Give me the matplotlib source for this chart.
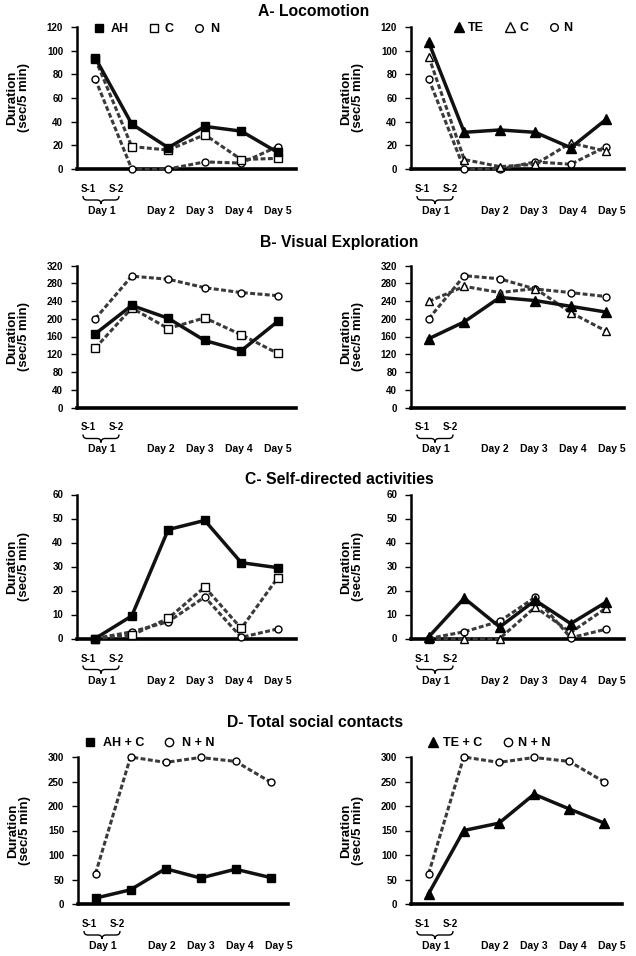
import numpy as np
import matplotlib
matplotlib.use('Agg')
import matplotlib.pyplot as plt
from matplotlib.lines import Line2D
from matplotlib.path import Path
from matplotlib.patches import PathPatch

plt.rcParams['font.family'] = ['Liberation Sans', 'DejaVu Sans']

W, H = 636, 956

# ---------------- data ----------------
sessions = ['S-1', 'S-2', 'Day 2', 'Day 3', 'Day 4', 'Day 5']
session_labels = ['S-1', 'S-2']
day_labels = ['Day 1', 'Day 2', 'Day 3', 'Day 4', 'Day 5']

titles = ['A- Locomotion', 'B- Visual Exploration',
          'C- Self-directed activities', 'D- Total social contacts']

# A - Locomotion
loc_AH = [94, 38, 18, 36, 32, 14]
loc_C_left = [93, 19, 16, 29, 8, 9]
loc_N_left = [76, 0, 0, 6, 5, 19]
loc_TE = [107, 31, 33, 31, 18, 42]
loc_C_right = [95, 8, 2, 4, 22, 15]
loc_N_right = [76, 0, 0, 6, 4, 19]

# B - Visual exploration
vis_AH = [166, 230, 201, 151, 128, 194]
vis_C_left = [134, 224, 178, 202, 164, 122]
vis_N_left = [200, 296, 289, 270, 259, 252]
vis_TE = [155, 193, 248, 241, 228, 215]
vis_C_right = [239, 273, 259, 268, 214, 172]
vis_N_right = [200, 297, 290, 267, 259, 250]

# C - Self-directed activities
self_AH = [0, 9.4, 45.4, 49.2, 31.6, 29.5]
self_C_left = [0, 1.4, 8.4, 21.4, 4.2, 25.3]
self_N_left = [0, 2.8, 7, 17.3, 0.5, 4]
self_TE = [0.7, 16.8, 4.8, 15.9, 6.2, 15.2]
self_C_right = [0, 0, 0, 13.1, 2.5, 12.7]
self_N_right = [0, 2.8, 7.2, 17.2, 0.3, 3.9]

# D - Total social contacts
soc_AHC = [12, 29, 72, 53, 71, 54]
soc_NN_left = [62, 300, 289, 299, 291, 249]
soc_TEC = [21, 150, 165, 224, 194, 165]
soc_NN_right = [62, 300, 289, 299, 291, 249]

yticks_A = [0, 20, 40, 60, 80, 100, 120]
yticks_B = [0, 40, 80, 120, 160, 200, 240, 280, 320]
yticks_C = [0, 10, 20, 30, 40, 50, 60]
yticks_D = [0, 50, 100, 150, 200, 250, 300]

# ---------------- figure ----------------
fig = plt.figure(figsize=(W / 100, H / 100), dpi=100)
fig.patch.set_facecolor('white')

x = np.arange(len(sessions))

SOLID = dict(color='#111111', lw=2.5, ls='-', zorder=5)
DASH = dict(color='#3a3a3a', lw=2.2, ls=(0, (1.6, 0.8)), zorder=4)


def fx(px):
    return px / W


def fy(py):
    return 1 - py / H


def make_ax(left, right, top, bottom, yticks):
    ax = fig.add_axes([fx(left), fy(bottom), (right - left) / W, (bottom - top) / H])
    ax.set_xlim(-0.5, len(sessions) - 0.5)
    ax.set_ylim(0, yticks[-1])
    ax.set_xticks([])
    ax.set_yticks(yticks)
    ax.set_yticklabels([str(t) for t in yticks], fontsize=7, fontweight='bold')
    ax.tick_params(axis='y', length=4, width=1, pad=6)
    for s in ['top', 'right']:
        ax.spines[s].set_visible(False)
    ax.spines['left'].set_linewidth(1.8)
    ax.spines['bottom'].set_linewidth(2.6)
    ax.set_ylabel('Duration\n(sec/5 min)', fontsize=9.5, fontweight='bold', linespacing=1.0)
    ax.yaxis.set_label_coords(-47 / (right - left), 0.5)
    ax.patch.set_alpha(0)
    # session / day labels and brace below axis
    s_off = [11.5, 39.5]
    d_off = [25, 84, 123, 162, 201]
    for lab, o in zip(session_labels, s_off):
        fig.text(fx(left + o), fy(bottom + 20), lab, ha='center', va='center',
                 fontsize=7, fontweight='bold')
    for lab, o in zip(day_labels, d_off):
        fig.text(fx(left + o), fy(bottom + 42), lab, ha='center', va='center',
                 fontsize=7.5, fontweight='bold')
    x0, x1, xm = left + 6, left + 42, left + 24
    y0, ym, yt = bottom + 27, bottom + 31, bottom + 35
    verts = [(x0, y0), (x0, ym), (x0 + 4, ym), (xm - 4, ym), (xm, ym), (xm, yt),
             (xm, ym), (xm + 4, ym), (x1 - 4, ym), (x1, ym), (x1, y0)]
    codes = [Path.MOVETO, Path.CURVE3, Path.CURVE3, Path.LINETO, Path.CURVE3, Path.CURVE3,
             Path.CURVE3, Path.CURVE3, Path.LINETO, Path.CURVE3, Path.CURVE3]
    verts = [(fx(a), fy(b)) for a, b in verts]
    fig.add_artist(PathPatch(Path(verts, codes), fill=False, lw=1.0,
                             edgecolor='black', transform=fig.transFigure))
    return ax


def series(ax, vals, style, marker, filled, ms):
    kw = dict(style)
    ax.plot(x, vals, marker=marker, ms=ms,
            markerfacecolor='black' if filled else 'white',
            markeredgecolor='black', markeredgewidth=1.0, clip_on=False, **kw)


def legend(ax, entries, x_left, y, textpad, colsp):
    handles = [Line2D([], [], ls='none', marker=m, ms=ms,
                      markerfacecolor='black' if f else 'white',
                      markeredgecolor='black', markeredgewidth=1.0)
               for (_, m, f, ms) in entries]
    labels = [e[0] for e in entries]
    ax.legend(handles, labels, ncol=len(entries), frameon=False,
              loc='center left', bbox_to_anchor=(fx(x_left), fy(y)),
              bbox_transform=fig.transFigure, borderpad=0, borderaxespad=0,
              handlelength=1.0, handletextpad=textpad, columnspacing=colsp,
              prop=dict(size=9, weight='bold'))


LX = (77, 296)
RX = (411, 624)
rows = [(27, 169), (265.5, 407.5), (494.5, 638.5), (757, 904)]

# titles
title_x = [258, 260, 245, 227]
title_y = [12, 242.5, 479, 722.5]
for t, tx, ty in zip(titles, title_x, title_y):
    fig.text(fx(tx), fy(ty), t, ha='left', va='center', fontsize=11.3, fontweight='bold')

# ---- A ----
ax = make_ax(LX[0], LX[1], rows[0][0], rows[0][1], yticks_A)
series(ax, loc_N_left, DASH, 'o', False, 5)
series(ax, loc_C_left, DASH, 's', False, 5.5)
series(ax, loc_AH, SOLID, 's', True, 6)
legend(ax, [('AH', 's', True, 6), ('C', 's', False, 6), ('N', 'o', False, 5.5)],
       93, 29, 0.4, 1.5)

ax = make_ax(RX[0], RX[1], rows[0][0], rows[0][1], yticks_A)
series(ax, loc_N_right, DASH, 'o', False, 5)
series(ax, loc_C_right, DASH, '^', False, 6)
series(ax, loc_TE, SOLID, '^', True, 6.5)
legend(ax, [('TE', '^', True, 7), ('C', '^', False, 7), ('N', 'o', False, 5.5)],
       453, 28, 0.2, 1.6)

# ---- B ----
ax = make_ax(LX[0], LX[1], rows[1][0], rows[1][1], yticks_B)
series(ax, vis_N_left, DASH, 'o', False, 5)
series(ax, vis_C_left, DASH, 's', False, 5.5)
series(ax, vis_AH, SOLID, 's', True, 6)

ax = make_ax(RX[0], RX[1], rows[1][0], rows[1][1], yticks_B)
series(ax, vis_N_right, DASH, 'o', False, 5)
series(ax, vis_C_right, DASH, '^', False, 6)
series(ax, vis_TE, SOLID, '^', True, 6.5)

# ---- C ----
ax = make_ax(LX[0], LX[1], rows[2][0], rows[2][1], yticks_C)
series(ax, self_N_left, DASH, 'o', False, 5)
series(ax, self_C_left, DASH, 's', False, 5.5)
series(ax, self_AH, SOLID, 's', True, 6)

ax = make_ax(RX[0], RX[1], rows[2][0], rows[2][1], yticks_C)
series(ax, self_N_right, DASH, 'o', False, 5)
series(ax, self_C_right, DASH, '^', False, 6)
series(ax, self_TE, SOLID, '^', True, 6.5)

# ---- D ----
ax = make_ax(78, 288, rows[3][0], rows[3][1], yticks_D)
series(ax, soc_NN_left, DASH, 'o', False, 5)
series(ax, soc_AHC, SOLID, 's', True, 6)
legend(ax, [('AH + C', 's', True, 6), ('N + N', 'o', False, 6)], 84, 743, 0.5, 1.5)

ax = make_ax(RX[0], 622, rows[3][0], rows[3][1], yticks_D)
series(ax, soc_NN_right, DASH, 'o', False, 5)
series(ax, soc_TEC, SOLID, '^', True, 6.5)
legend(ax, [('TE + C', '^', True, 7), ('N + N', 'o', False, 6)], 427, 743, 0.3, 1.5)

fig.savefig('out.png', dpi=100, facecolor='white')
